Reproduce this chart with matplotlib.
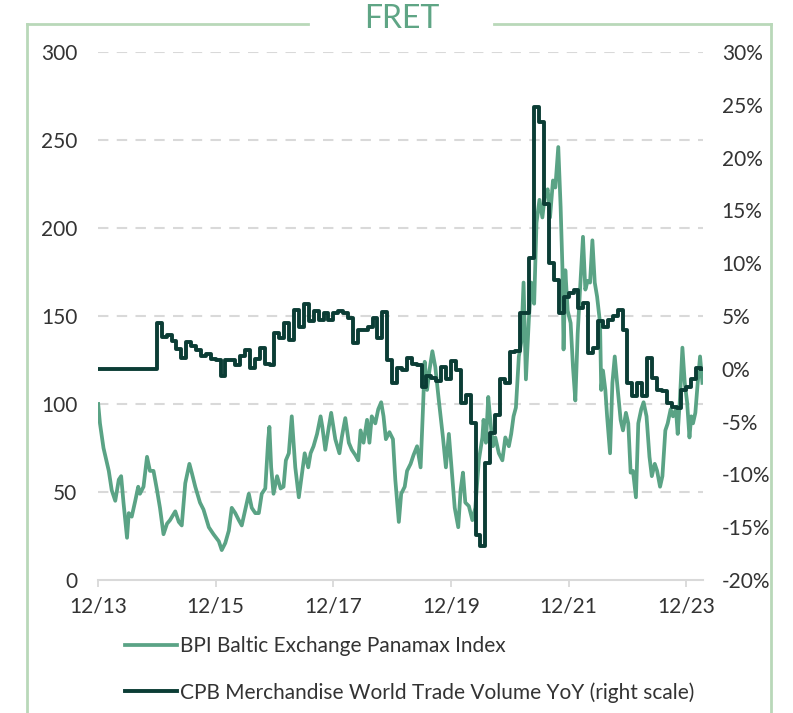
import numpy as np
import matplotlib
matplotlib.use("Agg")
import matplotlib.pyplot as plt
from matplotlib.lines import Line2D
from matplotlib.ticker import FuncFormatter

plt.rcParams['font.family'] = ['Lato', 'DejaVu Sans']

# BPI Baltic Exchange Panamax Index (decimal year, index level)
bpi_t = [2013.92, 2013.95, 2014.01, 2014.10, 2014.15, 2014.21, 2014.27, 2014.31, 2014.35, 2014.41,
         2014.44, 2014.49, 2014.55, 2014.60, 2014.63, 2014.69, 2014.75, 2014.80, 2014.86, 2014.92,
         2014.97, 2015.03, 2015.09, 2015.14, 2015.23, 2015.29, 2015.34, 2015.40, 2015.47, 2015.51,
         2015.57, 2015.65, 2015.71, 2015.80, 2015.88, 2015.97, 2016.02, 2016.08, 2016.14, 2016.19,
         2016.25, 2016.31, 2016.36, 2016.42, 2016.48, 2016.53, 2016.59, 2016.65, 2016.70, 2016.76,
         2016.81, 2016.83, 2016.86, 2016.90, 2016.96, 2017.02, 2017.07, 2017.11, 2017.16, 2017.21,
         2017.27, 2017.33, 2017.37, 2017.43, 2017.49, 2017.53, 2017.58, 2017.64, 2017.70, 2017.73,
         2017.78, 2017.84, 2017.88, 2017.95, 2018.02, 2018.06, 2018.12, 2018.18, 2018.23, 2018.29,
         2018.34, 2018.38, 2018.43, 2018.49, 2018.53, 2018.57, 2018.63, 2018.68, 2018.73, 2018.77,
         2018.81, 2018.87, 2018.93, 2018.97, 2019.03, 2019.07, 2019.13, 2019.17, 2019.23, 2019.28,
         2019.34, 2019.40, 2019.44, 2019.47, 2019.51, 2019.55, 2019.60, 2019.65, 2019.71, 2019.78,
         2019.83, 2019.88, 2019.92, 2019.98, 2020.04, 2020.08, 2020.12, 2020.16, 2020.22, 2020.28,
         2020.33, 2020.39, 2020.45, 2020.47, 2020.51, 2020.55, 2020.59, 2020.63, 2020.67, 2020.73,
         2020.79, 2020.84, 2020.90, 2020.94, 2020.98, 2021.02, 2021.07, 2021.11, 2021.15, 2021.19,
         2021.24, 2021.28, 2021.33, 2021.37, 2021.42, 2021.47, 2021.51, 2021.56, 2021.60, 2021.65,
         2021.69, 2021.74, 2021.78, 2021.81, 2021.83, 2021.86, 2021.90, 2021.95, 2021.99, 2022.03,
         2022.07, 2022.11, 2022.16, 2022.20, 2022.24, 2022.28, 2022.32, 2022.36, 2022.40, 2022.45,
         2022.47, 2022.50, 2022.54, 2022.57, 2022.62, 2022.66, 2022.70, 2022.74, 2022.80, 2022.84,
         2022.89, 2022.93, 2022.97, 2023.01, 2023.06, 2023.10, 2023.15, 2023.19, 2023.24, 2023.29,
         2023.33, 2023.38, 2023.42, 2023.47, 2023.51, 2023.56, 2023.60, 2023.65, 2023.69, 2023.74,
         2023.77, 2023.81, 2023.85, 2023.89, 2023.93, 2023.97, 2024.00, 2024.03, 2024.07, 2024.11,
         2024.15, 2024.19]
bpi_v = [100, 89, 75, 62, 51, 45, 57, 59, 44, 24,
         38, 36, 45, 53, 49, 53, 70, 62, 62, 51,
         41, 26, 32, 34, 39, 33, 31, 55, 66, 61,
         53, 44, 40, 30, 26, 22, 17, 21, 28, 41,
         38, 34, 31, 40, 49, 41, 38, 38, 49, 52,
         80, 87, 64, 49, 59, 52, 53, 68, 72, 93,
         64, 47, 57, 72, 64, 72, 76, 83, 93, 87,
         74, 87, 95, 80, 72, 81, 92, 78, 74, 71,
         68, 85, 78, 91, 78, 93, 89, 97, 101, 93,
         80, 84, 80, 57, 33, 49, 53, 62, 66, 71,
         76, 64, 97, 124, 108, 119, 130, 121, 102, 81,
         64, 83, 66, 41, 30, 51, 61, 44, 42, 34,
         41, 68, 81, 91, 78, 104, 89, 76, 81, 72,
         68, 81, 76, 83, 93, 98, 127, 135, 169, 114,
         148, 169, 157, 203, 216, 206, 218, 222, 206, 227,
         223, 246, 212, 178, 131, 176, 153, 146, 121, 102,
         140, 165, 195, 165, 170, 169, 193, 169, 161, 146,
         108, 119, 108, 93, 72, 112, 127, 112, 91, 85,
         95, 89, 61, 62, 47, 89, 97, 101, 93, 70,
         59, 66, 62, 53, 59, 85, 89, 97, 93, 97,
         83, 104, 132, 112, 101, 81, 93, 89, 95, 112,
         127, 112]

# CPB Merchandise World Trade Volume YoY, monthly from 12/2013 (%)
cpb_v = [0, 0, 0, 0, 0, 0, 0, 0, 0, 0, 0, 0,
         4.3, 3.0, 3.2, 2.6, 1.9, 1.0, 2.5, 2.2, 1.8, 1.2, 1.4, 0.9,
         0.85, -0.7, 0.8, 0.85, 0.4, 1.2, 1.8, 0.1, 0.9, 2.0, 0.5, 0.4,
         3.4, 2.9, 4.3, 2.7, 5.6, 4.0, 6.1, 4.5, 5.5, 4.6, 5.3, 4.6,
         5.3, 5.5, 5.3, 4.8, 2.4, 3.7, 3.7, 4.0, 4.8, 2.9, 5.4, 0.85,
         -1.35, 0.07, -0.1, 1.0, 0.5, 0.4, -1.7, -0.7, -0.9, -1.2, 0.2, -1.0,
         0.7, -0.1, -3.25, -2.5, -5.1, -15.7, -16.8, -8.9, -6.1, -4.35, -1.0, -1.35,
         1.6, 1.7, 5.3, 5.3, 10.5, 24.8, 23.4, 15.6, 10.0, 8.4, 5.3, 6.8,
         7.2, 7.5, 5.8, 6.2, 1.5, 2.0, 4.5, 4.0, 4.6, 5.0, 5.6, 3.7,
         -1.35, -2.6, -1.35, -2.6, 1.0, -0.9, -2.0, -2.1, -3.25, -3.6, -3.7, -2.0,
         -1.7, -1.0, 0.1, 0.0]

tick_years = [2013, 2015, 2017, 2019, 2021, 2023]
tick_labels = ['12/13', '12/15', '12/17', '12/19', '12/21', '12/23']

c_bpi = '#5aa385'
c_cpb = '#0b3d35'
c_grid = '#d9d9d9'
c_text = '#333333'
c_frame = '#b9d8b9'

cpb_t = 2013 + (11 + np.arange(len(cpb_v))) / 12.0

fig = plt.figure(figsize=(7.93, 7.13), dpi=100)
ax = fig.add_axes([98 / 793, 133 / 713, 605 / 793, 528 / 713])
ax2 = ax.twinx()

ax.plot(bpi_t, bpi_v, color=c_bpi, lw=2.7, label='BPI Baltic Exchange Panamax Index')
ax2.plot(cpb_t, cpb_v, color=c_cpb, lw=2.8, drawstyle='steps-post',
         label='CPB Merchandise World Trade Volume YoY (right scale)')

ax.set_xlim(2013 + 11 / 12, 2024.2)
ax.set_ylim(0, 300)
ax2.set_ylim(-20, 30)

ax.set_yticks(range(0, 301, 50))
ax2.set_yticks(range(-20, 31, 5))
ax2.yaxis.set_major_formatter(FuncFormatter(lambda v, p: f'{v:.0f}%'))
ax.set_xticks([y + 11 / 12 for y in tick_years])
ax.set_xticklabels(tick_labels)

for y in range(50, 301, 50):
    ax.axhline(y, color=c_grid, lw=1.5, ls=(0, (5, 4)), zorder=0)

for a in (ax, ax2):
    for s in ('top', 'left', 'right', 'bottom'):
        a.spines[s].set_visible(False)
ax.spines['bottom'].set_visible(True)
ax.spines['bottom'].set_color(c_grid)
ax.spines['bottom'].set_linewidth(1.5)

ax.tick_params(axis='y', length=0, pad=15, labelsize=15, labelcolor=c_text)
ax2.tick_params(axis='y', length=0, pad=13.5, labelsize=15, labelcolor=c_text)
ax.tick_params(axis='x', length=5, width=1.3, color=c_grid, pad=7,
               labelsize=15, labelcolor=c_text)

# legend below the plot
h1, l1 = ax.get_legend_handles_labels()
h2, l2 = ax2.get_legend_handles_labels()
fig.legend(h1 + h2, l1 + l2, loc='upper left', bbox_to_anchor=(125 / 793, 1 - 636 / 713),
           frameon=False, fontsize=15, handlelength=2.5, handletextpad=0.15,
           borderpad=0, borderaxespad=0, labelspacing=1.25, labelcolor=c_text)

# title and frame
fig.text(402 / 793, 1 - 19 / 713, 'FRET', ha='center', va='center', fontsize=23,
         color='#5fa585')
top = 1 - 24 / 713
left, right = 27 / 793, 771 / 793
fig.add_artist(Line2D([left, 308 / 793], [top, top], color=c_frame, lw=2))
fig.add_artist(Line2D([494 / 793, right], [top, top], color=c_frame, lw=2))
fig.add_artist(Line2D([left, left], [0, top], color=c_frame, lw=2))
fig.add_artist(Line2D([right, right], [0, top], color=c_frame, lw=2))

fig.savefig('out.png', dpi=100)
